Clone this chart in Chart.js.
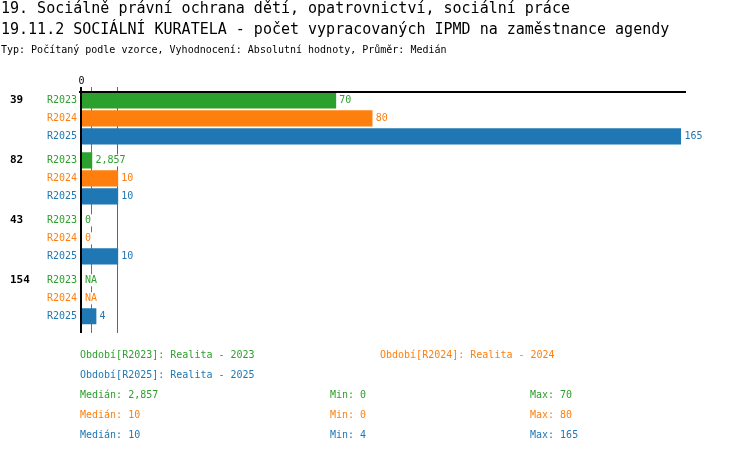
<!DOCTYPE html>
<html><head><meta charset="utf-8">
<script src="https://cdn.jsdelivr.net/npm/chart.js@4"></script>
<style>
html,body{margin:0;padding:0;background:#fff;}
#wrap{position:relative;width:750px;height:452px;overflow:hidden;font-family:"DejaVu Sans Mono",monospace;}
canvas{position:absolute;left:0;top:0;}
.t{position:absolute;white-space:pre;line-height:1;}
.t1{font-size:15px;left:1px;top:1px;color:#000;}
.t2{font-size:15px;left:1px;top:22px;color:#000;}
.st{font-size:10px;left:1px;top:45px;color:#000;}
.lg{font-size:10px;}
</style></head>
<body><div id="wrap">
<canvas id="c" width="750" height="452"></canvas>
<div class="t t1">19. Sociálně právní ochrana dětí, opatrovnictví, sociální práce</div>
<div class="t t2">19.11.2 SOCIÁLNÍ KURATELA - počet vypracovaných IPMD na zaměstnance agendy</div>
<div class="t st">Typ: Počítaný podle vzorce, Vyhodnocení: Absolutní hodnoty, Průměr: Medián</div>
<div id="legend"></div>
</div>
<script>
const categories = ['39', '82', '43', '154'];
const seriesNames = ['R2023', 'R2024', 'R2025'];
const r2023 = [70, 2.857, 0, null];
const r2024 = [80, 10, 0, null];
const r2025 = [165, 10, 10, 4];
const periodNames = ['Realita - 2023', 'Realita - 2024', 'Realita - 2025'];
const medians = [2.857, 10, 10];
const mins = [0, 0, 4];
const maxs = [70, 80, 165];
const xTicks = [0];

const colors = ['#2ca02c', '#ff7f0e', '#1f77b4'];
const seriesValues = [r2023, r2024, r2025];
const GROUP = 3 + 1/3;
const fmt = v => v === null ? 'NA' : String(v).replace('.', ',');

// legend (HTML text)
const lg = document.getElementById('legend');
function addText(txt, x, y, color) {
  const d = document.createElement('div');
  d.className = 't lg';
  d.style.left = x + 'px'; d.style.top = y + 'px'; d.style.color = color;
  d.textContent = txt;
  lg.appendChild(d);
}
const legPos = [[80, 350], [380, 350], [80, 370]];
seriesNames.forEach((s, i) => addText('Období[' + s + ']: ' + periodNames[i], legPos[i][0], legPos[i][1], colors[i]));
seriesNames.forEach((s, i) => {
  const y = 390 + i * 20;
  addText('Medián: ' + fmt(medians[i]), 80, y, colors[i]);
  addText('Min: ' + fmt(mins[i]), 330, y, colors[i]);
  addText('Max: ' + fmt(maxs[i]), 530, y, colors[i]);
});

const datasets = seriesValues.map((vals, s) => ({
  label: seriesNames[s],
  data: vals.map((v, g) => ({ x: v, y: g * GROUP + s })),
  backgroundColor: colors[s],
  borderWidth: 0,
  barThickness: 15.5,
  grouped: false
}));

const FONT = '10px "DejaVu Sans Mono"';
const overlay = {
  id: 'overlay',
  beforeDatasetsDraw(chart) {
    const ctx = chart.ctx, xs = chart.scales.x, ca = chart.chartArea;
    ctx.save();
    medians.forEach((m, i) => {
      const x = Math.round(xs.getPixelForValue(m)) - 1;
      ctx.fillStyle = colors[i];
      ctx.fillRect(x, 87, 1, ca.bottom - 87);
    });
    ctx.restore();
  },
  afterDatasetsDraw(chart) {
    const ctx = chart.ctx, xs = chart.scales.x, ys = chart.scales.y, ca = chart.chartArea;
    ctx.save();
    // axes
    ctx.fillStyle = '#000';
    ctx.fillRect(79, 91, ca.right + 5 - 79, 2);
    ctx.fillRect(80, 87, 2, ca.bottom - 87);
    ctx.font = FONT; ctx.textBaseline = 'middle'; ctx.textAlign = 'center';
    xTicks.forEach(t => ctx.fillText(String(t), xs.getPixelForValue(t), 81));
    categories.forEach((c, g) => {
      ctx.fillStyle = '#000';
      ctx.font = 'bold 11px "DejaVu Sans Mono"';
      ctx.textAlign = 'left';
      ctx.fillText(c, 10, ys.getPixelForValue(g * GROUP));
      seriesNames.forEach((s, si) => {
        const y = ys.getPixelForValue(g * GROUP + si);
        ctx.font = FONT;
        ctx.fillStyle = colors[si];
        ctx.textAlign = 'right';
        ctx.fillText(s, 77, y);
        const v = seriesValues[si][g];
        const x0 = xs.getPixelForValue(v === null ? 0 : v) + 3.5;
        const txt = fmt(v);
        const w = ctx.measureText(txt).width;
        ctx.fillStyle = '#fff';
        ctx.fillRect(x0 - 1, y - 6, w + 2, 12);
        ctx.fillStyle = colors[si];
        ctx.textAlign = 'left';
        ctx.fillText(txt, x0, y);
      });
    });
    ctx.restore();
  }
};

new Chart(document.getElementById('c'), {
  type: 'bar',
  data: { datasets },
  options: {
    indexAxis: 'y',
    responsive: false,
    animation: false,
    devicePixelRatio: 1,
    layout: { padding: { left: 81.5, right: 69, top: 92, bottom: 119 } },
    scales: {
      x: { type: 'linear', min: 0, max: Math.max(...maxs), display: false, offset: false },
      y: { type: 'linear', min: -0.47, max: 12.93, reverse: true, display: false, offset: false }
    },
    plugins: { legend: { display: false }, tooltip: { enabled: false } }
  },
  plugins: [overlay]
});
</script>
</body></html>
